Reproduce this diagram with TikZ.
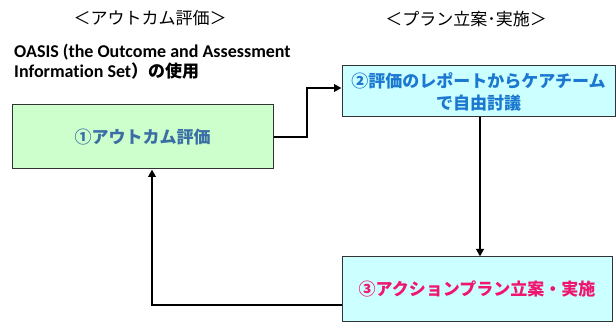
\documentclass[tikz,border=0pt]{standalone}
\usepackage{fontspec}
\setmainfont{Carlito}[Ligatures=NoCommon]
\newfontfamily\cjk{Noto Sans CJK JP}
\usetikzlibrary{arrows.meta}
\definecolor{fillgreen}{HTML}{CCFFCC}
\definecolor{fillcyan}{HTML}{CCFFFF}
\definecolor{txtone}{HTML}{3A6EA5}
\definecolor{txttwo}{HTML}{1A78D0}
\definecolor{txtthree}{HTML}{F0156E}
\tikzset{
  box/.style={draw=black!80, line width=1pt, inner sep=0pt, align=center, font=\cjk\bfseries\fontsize{17}{22}\selectfont},
  conn/.style={line width=2.6pt, -{Triangle[length=7.5pt,width=7.5pt]}},
  title/.style={inner sep=0pt, font=\cjk\fontsize{17}{20}\selectfont},
  note/.style={inner sep=0pt, anchor=base west, align=left, font=\bfseries\fontsize{18}{21}\selectfont}
}
\begin{document}
\begin{tikzpicture}[x=1pt,y=-1pt]
\useasboundingbox (0,0) rectangle (616,323);
\node[title] (t1) at (150,18) {＜アウトカム評価＞};
\node[title] (t2) at (466,19) {＜プラン立案･実施＞};
\node[note] (n1) at (14,58) {OASIS (the Outcome and Assessment};
\node[note] (n2) at (14,78) {Information Set{\cjk\fontsize{17}{20}\selectfont）の使用}};
\node[box, fill=fillgreen, minimum width=261pt, minimum height=64pt, text=txtone] (b1) at (142.5,137) {①アウトカム評価};
\node[box, fill=fillcyan, minimum width=273pt, minimum height=51pt, text=txttwo] (b2) at (478.5,91.5) {②評価のレポートからケアチーム\\で自由討議};
\node[box, fill=fillcyan, minimum width=270pt, minimum height=64pt, text=txtthree] (b3) at (477,289) {③アクションプラン立案・実施};
\coordinate (k1) at (307,88);
\coordinate (k2) at (480,0);
\coordinate (k3) at (152,305);
\draw[conn] (b1.east) -| (k1) -- (k1 -| b2.west);
\draw[conn] (b2.south -| k2) -- (b3.north -| k2);
\draw[conn] (k3 -| b3.west) -| (b1.south -| k3);
\end{tikzpicture}
\end{document}
